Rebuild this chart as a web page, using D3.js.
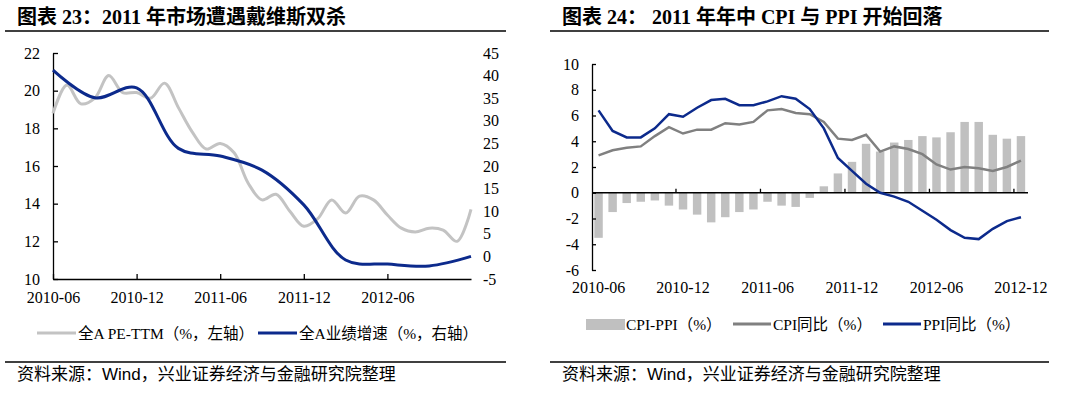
<!DOCTYPE html>
<html>
<head>
<meta charset="utf-8">
<script src="https://cdn.jsdelivr.net/npm/d3@7"></script>
<style>
  body { margin: 0; background: #fff; }
  svg { display: block; }
</style>
</head>
<body>
<div id="chart"></div>
<script>
// ---- data ----
var months = ["2010-06","2010-07","2010-08","2010-09","2010-10","2010-11","2010-12",
  "2011-01","2011-02","2011-03","2011-04","2011-05","2011-06","2011-07","2011-08","2011-09",
  "2011-10","2011-11","2011-12","2012-01","2012-02","2012-03","2012-04","2012-05","2012-06",
  "2012-07","2012-08","2012-09","2012-10","2012-11","2012-12"];

// 全A PE-TTM (left axis)
var peTTM = [18.8, 20.3, 19.3, 19.6, 20.8, 19.9, 19.9, 19.6, 20.4, 19.1, 17.8, 16.9, 17.2, 16.7,
  15.1, 14.2, 14.5, 13.6, 12.8, 13.2, 14.2, 13.5, 14.4, 14.2, 13.4, 12.7, 12.5, 12.7, 12.6, 12.0, 13.7];

// 全A业绩增速 (right axis, quarterly)
var growthQuarters = ["2010-06","2010-09","2010-12","2011-03","2011-06","2011-09","2011-12",
  "2012-03","2012-06","2012-09","2012-12"];
var growth = [41.2, 35.1, 37.3, 23.9, 22.2, 19.1, 11.4, -0.8, -1.7, -2.1, 0.0];

var cpiPpi = [-3.5, -1.5, -0.8, -0.7, -0.6, -1.0, -1.3, -1.7, -2.3, -1.9, -1.5, -1.3, -0.7, -1.0, -1.1, -0.4,
  0.5, 1.5, 2.4, 3.8, 3.2, 3.9, 4.1, 4.4, 4.3, 4.7, 5.5, 5.5, 4.5, 4.2, 4.4];
var cpi = [2.9, 3.3, 3.5, 3.6, 4.4, 5.1, 4.6, 4.9, 4.9, 5.4, 5.3, 5.5, 6.4, 6.5, 6.2, 6.1,
  5.5, 4.2, 4.1, 4.5, 3.2, 3.6, 3.4, 3.0, 2.2, 1.8, 2.0, 1.9, 1.7, 2.0, 2.5];
var ppi = [6.4, 4.8, 4.3, 4.3, 5.0, 6.1, 5.9, 6.6, 7.2, 7.3, 6.8, 6.8, 7.1, 7.5, 7.3, 6.5,
  5.0, 2.7, 1.7, 0.7, 0.0, -0.3, -0.7, -1.4, -2.1, -2.9, -3.5, -3.6, -2.8, -2.2, -1.9];

var leftXTicks = ["2010-06","2010-12","2011-06","2011-12","2012-06"];
var rightXTicks = ["2010-06","2010-12","2011-06","2011-12","2012-06","2012-12"];
var leftYTicks = [10, 12, 14, 16, 18, 20, 22];
var rightYTicks = [-5, 0, 5, 10, 15, 20, 25, 30, 35, 40, 45];
var cpiYTicks = [-6, -4, -2, 0, 2, 4, 6, 8, 10];

var serif = "'Liberation Serif','Noto Sans CJK SC'";
var navy = "#0c2a8c";
var fmt = function(d) { return String(d); }; // plain hyphen minus, like the source

var svg = d3.select("#chart").append("svg")
  .attr("width", 1080)
  .attr("height", 397);

// ---- titles, rules, sources ----
function frame(x0, x1, title, titleX) {
  svg.append("text")
    .attr("x", titleX).attr("y", 24)
    .attr("font-family", serif).attr("font-weight", "bold")
    .attr("font-size", "20px").attr("fill", "#000")
    .text(title);
  svg.append("line").attr("x1", x0).attr("x2", x1).attr("y1", 31).attr("y2", 31)
    .attr("stroke", "#000").attr("stroke-width", 1.3);
  svg.append("line").attr("x1", x0).attr("x2", x1).attr("y1", 362).attr("y2", 362)
    .attr("stroke", "#000").attr("stroke-width", 1.3);
  svg.append("text")
    .attr("x", titleX).attr("y", 380)
    .attr("font-family", "'Liberation Sans','Noto Sans CJK SC'")
    .attr("font-size", "17px").attr("fill", "#000")
    .text("资料来源：Wind，兴业证券经济与金融研究院整理");
}
frame(5, 506, "图表 23：2011 年市场遭遇戴维斯双杀", 17);
frame(550, 1049, "图表 24：  2011 年年中 CPI 与 PPI 开始回落", 562);

function styleAxis(g) {
  g.select(".domain").attr("stroke", "#000").attr("stroke-width", 1.3);
  g.selectAll("line").attr("stroke", "#000").attr("stroke-width", 1.3);
  g.selectAll("text").attr("font-family", serif).attr("font-size", "16px").attr("fill", "#000");
}

// ---- left chart ----
var xL = d3.scalePoint().domain(months).range([53, 471]);
var yL = d3.scaleLinear().domain([10, 22]).range([279, 53]);
var yR = d3.scaleLinear().domain([-5, 45]).range([279, 53]);

var gL = svg.append("g");

gL.append("g")
  .attr("transform", "translate(53,0)")
  .call(d3.axisLeft(yL).tickValues(leftYTicks).tickFormat(fmt).tickSizeInner(-5).tickSizeOuter(0).tickPadding(13))
  .call(styleAxis);

gL.append("g")
  .attr("transform", "translate(471,0)")
  .call(d3.axisRight(yR).tickValues(rightYTicks).tickFormat(fmt).tickSize(0).tickPadding(12))
  .call(styleAxis)
  .call(function(g) { g.select(".domain").remove(); });

gL.append("g")
  .attr("transform", "translate(0,279)")
  .call(d3.axisBottom(xL).tickValues(leftXTicks).tickSizeInner(-5).tickSizeOuter(0).tickPadding(13))
  .call(styleAxis);

var peLine = d3.line()
  .x(function(d, i) { return xL(months[i]); })
  .y(function(d) { return yL(d); })
  .curve(d3.curveCatmullRom.alpha(0.5));

gL.append("path")
  .datum(peTTM)
  .attr("d", peLine)
  .attr("fill", "none").attr("stroke", "#c3c3c3").attr("stroke-width", 3);

var growthLine = d3.line()
  .x(function(d, i) { return xL(growthQuarters[i]); })
  .y(function(d) { return yR(d); })
  .curve(d3.curveCatmullRom.alpha(0.5));

gL.append("path")
  .datum(growth)
  .attr("d", growthLine)
  .attr("fill", "none").attr("stroke", navy).attr("stroke-width", 3);

// left legend
var legL = [
  {label: "全A PE-TTM（%，左轴）", color: "#c3c3c3", x: 37},
  {label: "全A业绩增速（%，右轴）", color: navy, x: 258}
];
legL.forEach(function(d) {
  svg.append("line").attr("x1", d.x).attr("x2", d.x + 39).attr("y1", 333).attr("y2", 333)
    .attr("stroke", d.color).attr("stroke-width", 3);
  svg.append("text").attr("x", d.x + 41).attr("y", 338.5)
    .attr("font-family", serif).attr("font-size", "15.5px").attr("fill", "#000")
    .text(d.label);
});

// ---- right chart ----
var xC = d3.scalePoint().domain(months).range([591.5, 1028]).padding(0.5);
var step = xC.step();
var yC = d3.scaleLinear().domain([-6, 10]).range([270, 64]);

var gR = svg.append("g");

gR.selectAll("rect.bar")
  .data(cpiPpi)
  .enter().append("rect")
  .attr("class", "bar")
  .attr("x", function(d, i) { return xC(months[i]) - step * 0.3; })
  .attr("width", step * 0.6)
  .attr("y", function(d) { return yC(Math.max(0, d)); })
  .attr("height", function(d) { return Math.abs(yC(d) - yC(0)); })
  .attr("fill", "#c0c0c0");

gR.append("g")
  .attr("transform", "translate(592,0)")
  .call(d3.axisLeft(yC).tickValues(cpiYTicks).tickFormat(fmt).tickSizeInner(-4).tickSizeOuter(0).tickPadding(13))
  .call(styleAxis);

// zero axis with ticks between categories
gR.append("line")
  .attr("x1", 592).attr("x2", 1028).attr("y1", yC(0)).attr("y2", yC(0))
  .attr("stroke", "#000").attr("stroke-width", 1.3);
gR.selectAll("line.xt")
  .data(rightXTicks.slice(1))
  .enter().append("line")
  .attr("class", "xt")
  .attr("x1", function(d) { return xC(d) - step / 2; })
  .attr("x2", function(d) { return xC(d) - step / 2; })
  .attr("y1", yC(0)).attr("y2", yC(0) - 4)
  .attr("stroke", "#000").attr("stroke-width", 1.3);
gR.selectAll("text.xl")
  .data(rightXTicks)
  .enter().append("text")
  .attr("class", "xl")
  .attr("x", function(d) { return xC(d); })
  .attr("y", 293)
  .attr("text-anchor", "middle")
  .attr("font-family", serif).attr("font-size", "16px").attr("fill", "#000")
  .text(function(d) { return d; });

var cLine = d3.line()
  .x(function(d, i) { return xC(months[i]); })
  .y(function(d) { return yC(d); });

gR.append("path").datum(cpi).attr("d", cLine)
  .attr("fill", "none").attr("stroke", "#808080").attr("stroke-width", 2.5);
gR.append("path").datum(ppi).attr("d", cLine)
  .attr("fill", "none").attr("stroke", navy).attr("stroke-width", 2.5);

// right legend
var legR = [
  {label: "CPI-PPI（%）", color: "#c0c0c0", x: 586, bar: true},
  {label: "CPI同比（%）", color: "#808080", x: 733},
  {label: "PPI同比（%）", color: navy, x: 883}
];
legR.forEach(function(d) {
  if (d.bar) {
    svg.append("rect").attr("x", d.x).attr("y", 319).attr("width", 39).attr("height", 11)
      .attr("fill", d.color);
  } else {
    svg.append("line").attr("x1", d.x).attr("x2", d.x + 38).attr("y1", 324).attr("y2", 324)
      .attr("stroke", d.color).attr("stroke-width", 3);
  }
  svg.append("text").attr("x", d.x + 40).attr("y", 329.5)
    .attr("font-family", serif).attr("font-size", "15.5px").attr("fill", "#000")
    .text(d.label);
});
</script>
</body>
</html>
